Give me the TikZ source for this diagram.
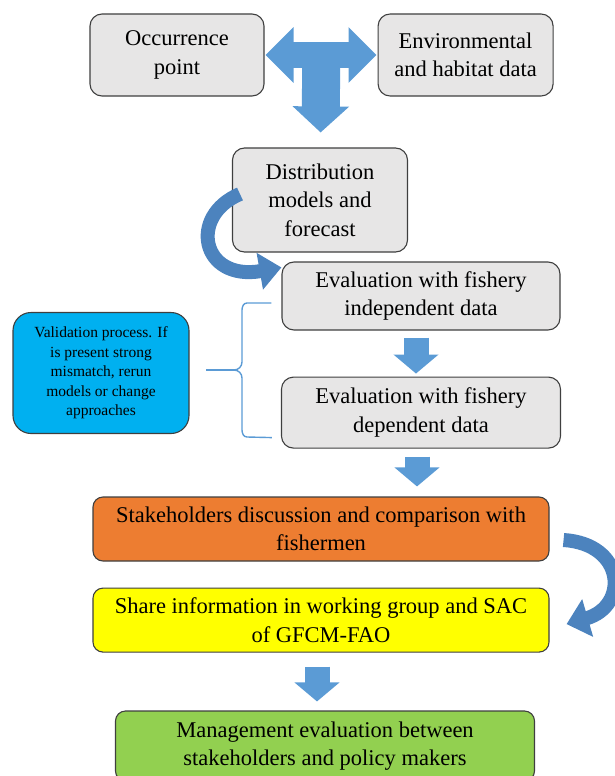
\documentclass[tikz,border=0pt]{standalone}
\usepackage{fontspec}
\setmainfont{Liberation Serif}
\usetikzlibrary{arrows.meta,positioning,calc}
\definecolor{boxgray}{HTML}{E7E6E6}
\definecolor{edge}{HTML}{3F3F3F}
\definecolor{valblue}{HTML}{00B0F0}
\definecolor{stakeorange}{HTML}{ED7D31}
\definecolor{shareyellow}{HTML}{FFFF00}
\definecolor{mgmtgreen}{HTML}{92D050}
\definecolor{flowblue}{HTML}{5B9BD5}
\definecolor{loopblue}{HTML}{4C83BE}

\begin{document}
\begin{tikzpicture}[x=1pt,y=-1pt,node distance=26pt and 113pt,
b/.style={draw=edge,line width=1.1pt,rounded corners=12pt,fill=boxgray,align=center,inner sep=0pt,font=\fontsize{22.5}{28.5}\selectfont},
blk/.style={flowblue,line width=25pt,-{Triangle[width=44pt,length=19pt]}},
loop/.style={loopblue,line width=14pt,-{Triangle[width=36pt,length=22pt]}},
brace/.style={flowblue,line width=1.4pt}]
\useasboundingbox (0,0) rectangle (614,776);
\node[b,minimum width=174pt,minimum height=82pt] (occ) at (177,55) {Occurrence\\point};
\node[b,minimum width=175pt,minimum height=82pt,right=of occ] (env) {Environmental\\and habitat data};
\node[b,minimum width=175pt,minimum height=104pt] (dist) at (320,200) {Distribution\\models and\\forecast};
\node[b,minimum width=278pt,minimum height=68pt] (indep) at (421,296) {Evaluation with fishery\\independent data};
\node[b,minimum width=279pt,minimum height=71pt,below=46pt of indep] (dep) {Evaluation with fishery\\dependent data};
\node[b,fill=valblue,rounded corners=18pt,minimum width=176pt,minimum height=121pt,font=\fontsize{15.5}{19.5}\selectfont] (val) at (101,373) {Validation process. If\\is present strong\\mismatch, rerun\\models or change\\approaches};
\node[b,fill=stakeorange,rounded corners=10pt,minimum width=456pt,minimum height=64pt] (stake) at (321,529) {Stakeholders discussion and comparison with\\fishermen};
\node[b,fill=shareyellow,rounded corners=10pt,minimum width=456pt,minimum height=64pt,below=of stake] (share) {Share information in working group and SAC\\of GFCM-FAO};
\node[b,fill=mgmtgreen,rounded corners=10pt,minimum width=419pt,minimum height=70pt] (mgmt) at (325,746) {Management evaluation between\\stakeholders and policy makers};

% T-shaped arrow on top
\draw[flowblue,line width=26pt,{Triangle[width=54pt,length=28pt]}-{Triangle[width=54pt,length=28pt]},shorten <=1pt,shorten >=1pt] (occ) -- (env);
\draw[flowblue,line width=38pt,-{Triangle[width=55pt,length=26pt]},shorten >=15pt] ($(occ)!0.5!(env)$) -- (dist);

\draw[blk,shorten <=7pt,shorten >=3pt] ([xshift=-5pt]indep.south) -- ([xshift=-5pt]indep.south |- dep.north);
\draw[blk,shorten <=8pt,shorten >=10pt] ([xshift=-4pt]dep.south) -- ([xshift=-4pt]dep.south |- stake.north);
\draw[blk,shorten <=14pt,shorten >=9pt] ([xshift=-4pt]share.south) -- ([xshift=-4pt]share.south |- mgmt.north);

% curved arrows
\draw[loop] ([shift={(8,-6)}]dist.west) .. controls +(-52,22) and +(-80,14) .. ([shift={(0,6)}]indep.north west);
\draw[loop,line width=14pt,-{Triangle[width=38pt,length=22pt]}] ([shift={(14,11)}]stake.east) .. controls +(62,4) and +(62,-18) .. ([shift={(17,4)}]share.east);

% brace
\coordinate (tip) at (234,370);
\draw[brace] ([shift={(-10,7)}]indep.west) -- (247,303) to[out=180,in=90] (242,310) -- (242,362)
  to[out=270,in=0] (tip) to[out=0,in=90] (242,378) -- (242,430) to[out=270,in=180] (247,437) -- ([shift={(-9,25)}]dep.west);
\draw[brace] (tip) -- ([xshift=16pt]val.east |- tip);
\end{tikzpicture}
\end{document}
